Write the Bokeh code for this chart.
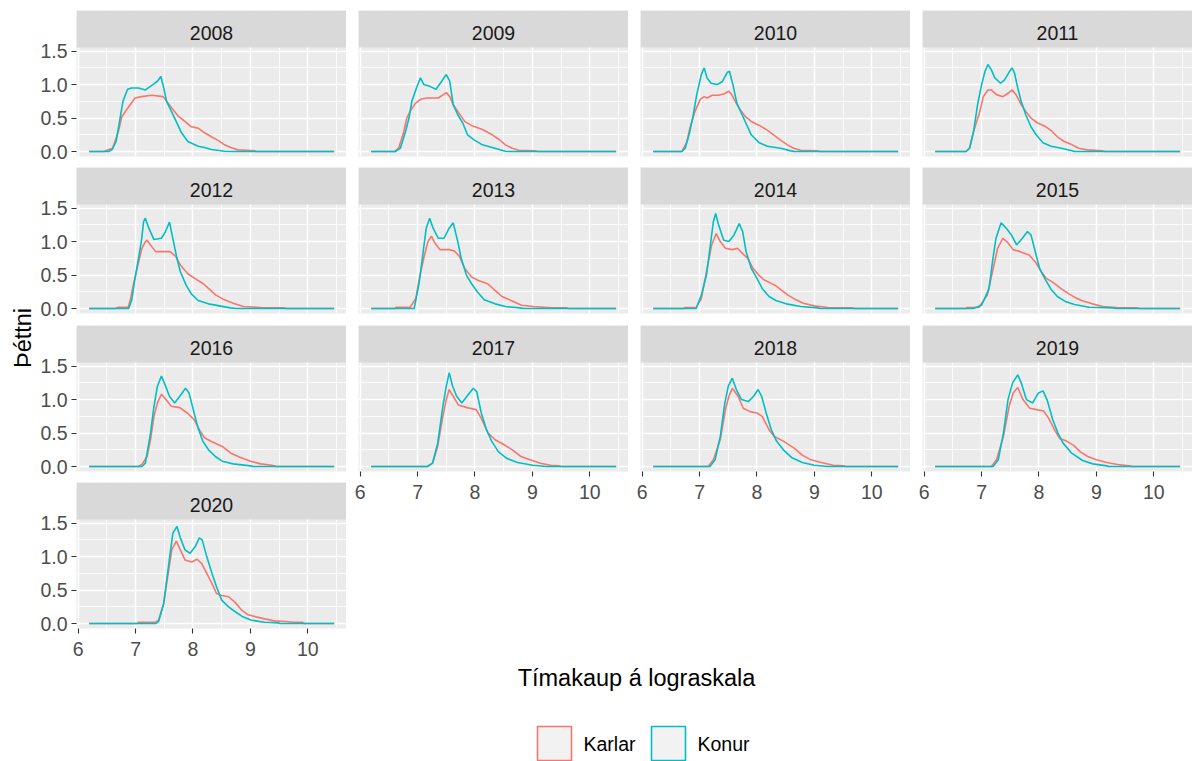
from math import pi

from bokeh.core.properties import value
from bokeh.embed import file_html
from bokeh.layouts import column, row
from bokeh.models import (FixedTicker, Grid, Label, LinearAxis,
                          PrintfTickFormatter, Range1d)
from bokeh.plotting import figure
from bokeh.resources import INLINE

# ---------------------------------------------------------------------------
# Density of log hourly wages, men (Karlar) and women (Konur), 2008-2020
# ---------------------------------------------------------------------------
years = [2008, 2009, 2010, 2011, 2012, 2013, 2014, 2015, 2016, 2017, 2018, 2019, 2020]
series_names = ["Karlar", "Konur"]
x_ticks = [6, 7, 8, 9, 10]
y_ticks = [0.0, 0.5, 1.0, 1.5]

x_karlar_2008 = [6.19, 6.45, 6.5, 6.6, 6.7, 6.76, 6.84, 6.99, 7.1, 7.28, 7.48, 7.54, 7.63, 7.74, 7.86, 7.97, 8.09, 8.2, 8.32, 8.43, 8.55, 8.66, 8.78, 9.0, 9.08, 9.1, 10.46]
y_karlar_2008 = [0, 0, 0.02, 0.05, 0.3, 0.52, 0.62, 0.8, 0.82, 0.84, 0.82, 0.75, 0.65, 0.53, 0.45, 0.37, 0.35, 0.28, 0.22, 0.17, 0.1, 0.06, 0.025, 0.015, 0.01, 0, 0]
x_konur_2008 = [6.19, 6.53, 6.59, 6.66, 6.72, 6.78, 6.86, 6.93, 7.05, 7.17, 7.3, 7.38, 7.44, 7.49, 7.54, 7.68, 7.8, 7.91, 8.09, 8.2, 8.32, 8.55, 8.7, 10.46]
y_konur_2008 = [0, 0, 0.03, 0.15, 0.45, 0.75, 0.93, 0.95, 0.95, 0.92, 1.0, 1.05, 1.12, 0.95, 0.75, 0.5, 0.28, 0.15, 0.08, 0.06, 0.03, 0.005, 0, 0]

x_karlar_2009 = [6.19, 6.6, 6.67, 6.76, 6.81, 6.87, 6.96, 7.05, 7.16, 7.36, 7.45, 7.5, 7.56, 7.62, 7.7, 7.82, 7.96, 8.13, 8.3, 8.42, 8.53, 8.65, 8.76, 9.05, 9.1, 10.46]
y_karlar_2009 = [0, 0, 0.05, 0.3, 0.5, 0.6, 0.72, 0.78, 0.8, 0.8, 0.85, 0.88, 0.82, 0.7, 0.6, 0.45, 0.38, 0.33, 0.25, 0.18, 0.1, 0.05, 0.02, 0.01, 0, 0]
x_konur_2009 = [6.19, 6.61, 6.7, 6.79, 6.85, 6.9, 6.98, 7.05, 7.11, 7.22, 7.32, 7.42, 7.5, 7.56, 7.62, 7.7, 7.79, 7.87, 7.99, 8.13, 8.3, 8.53, 8.6, 10.46]
y_konur_2009 = [0, 0, 0.05, 0.3, 0.5, 0.75, 0.95, 1.1, 1.0, 0.97, 0.93, 1.05, 1.15, 1.05, 0.7, 0.55, 0.42, 0.25, 0.17, 0.1, 0.06, 0.005, 0, 0]

x_karlar_2010 = [6.19, 6.69, 6.78, 6.83, 6.92, 7.01, 7.08, 7.13, 7.22, 7.33, 7.42, 7.51, 7.56, 7.62, 7.71, 7.79, 7.9, 8.04, 8.18, 8.3, 8.41, 8.53, 8.64, 8.76, 9.05, 9.1, 10.46]
y_karlar_2010 = [0, 0, 0.15, 0.35, 0.6, 0.78, 0.82, 0.8, 0.84, 0.84, 0.86, 0.9, 0.85, 0.75, 0.62, 0.53, 0.45, 0.39, 0.32, 0.24, 0.17, 0.1, 0.05, 0.02, 0.01, 0, 0]
x_konur_2010 = [6.19, 6.69, 6.75, 6.83, 6.89, 6.95, 7.03, 7.08, 7.13, 7.2, 7.31, 7.4, 7.48, 7.52, 7.58, 7.65, 7.74, 7.82, 7.9, 8.04, 8.18, 8.41, 8.59, 8.65, 10.46]
y_konur_2010 = [0, 0, 0.05, 0.3, 0.55, 0.85, 1.15, 1.25, 1.1, 1.02, 1.0, 1.05, 1.18, 1.2, 1.0, 0.72, 0.55, 0.4, 0.25, 0.13, 0.08, 0.05, 0.01, 0, 0]

x_karlar_2011 = [6.19, 6.73, 6.79, 6.86, 6.97, 7.03, 7.11, 7.17, 7.26, 7.37, 7.46, 7.53, 7.6, 7.69, 7.77, 7.86, 7.97, 8.12, 8.23, 8.32, 8.44, 8.58, 8.69, 8.84, 9.1, 9.15, 10.46]
y_karlar_2011 = [0, 0, 0.05, 0.3, 0.6, 0.82, 0.92, 0.92, 0.85, 0.82, 0.87, 0.92, 0.85, 0.7, 0.6, 0.5, 0.43, 0.37, 0.3, 0.22, 0.15, 0.1, 0.05, 0.025, 0.01, 0, 0]
x_konur_2011 = [6.19, 6.73, 6.79, 6.86, 6.93, 7.0, 7.06, 7.11, 7.17, 7.23, 7.33, 7.4, 7.49, 7.53, 7.57, 7.63, 7.69, 7.77, 7.86, 7.95, 8.07, 8.21, 8.39, 8.56, 8.62, 10.46]
y_konur_2011 = [0, 0, 0.05, 0.3, 0.7, 1.0, 1.2, 1.3, 1.22, 1.1, 1.02, 1.07, 1.2, 1.25, 1.18, 0.95, 0.75, 0.55, 0.37, 0.25, 0.13, 0.08, 0.05, 0.015, 0, 0]

x_karlar_2012 = [6.19, 6.65, 6.7, 6.87, 6.9, 6.96, 7.04, 7.11, 7.17, 7.2, 7.26, 7.35, 7.48, 7.6, 7.7, 7.78, 7.91, 8.03, 8.18, 8.27, 8.4, 8.55, 8.7, 8.88, 9.18, 9.37, 9.58, 9.62, 10.46]
y_karlar_2012 = [0, 0, 0.02, 0.02, 0.1, 0.35, 0.65, 0.9, 1.0, 1.02, 0.95, 0.85, 0.85, 0.85, 0.78, 0.65, 0.52, 0.45, 0.37, 0.3, 0.2, 0.13, 0.08, 0.03, 0.015, 0.01, 0.01, 0, 0]
x_konur_2012 = [6.19, 6.88, 6.93, 6.98, 7.04, 7.1, 7.14, 7.17, 7.23, 7.32, 7.45, 7.52, 7.59, 7.66, 7.72, 7.78, 7.88, 7.97, 8.09, 8.27, 8.46, 8.65, 8.75, 10.46]
y_konur_2012 = [0, 0, 0.12, 0.4, 0.7, 1.0, 1.3, 1.35, 1.2, 1.03, 1.05, 1.15, 1.29, 1.0, 0.75, 0.55, 0.35, 0.22, 0.12, 0.07, 0.04, 0.01, 0, 0]

x_karlar_2013 = [6.19, 6.6, 6.63, 6.87, 6.97, 7.03, 7.12, 7.18, 7.24, 7.3, 7.39, 7.55, 7.64, 7.73, 7.82, 7.94, 8.06, 8.22, 8.35, 8.47, 8.66, 8.81, 9.02, 9.33, 9.6, 9.63, 10.46]
y_karlar_2013 = [0, 0, 0.02, 0.02, 0.15, 0.45, 0.8, 1.0, 1.08, 0.98, 0.88, 0.88, 0.86, 0.78, 0.6, 0.47, 0.42, 0.37, 0.27, 0.18, 0.11, 0.05, 0.03, 0.01, 0.01, 0, 0]
x_konur_2013 = [6.19, 6.94, 7.03, 7.09, 7.15, 7.21, 7.27, 7.36, 7.46, 7.55, 7.62, 7.7, 7.76, 7.85, 7.94, 8.04, 8.16, 8.35, 8.53, 8.78, 8.85, 10.46]
y_konur_2013 = [0, 0, 0.4, 0.8, 1.2, 1.35, 1.2, 1.05, 1.05, 1.2, 1.28, 1.0, 0.75, 0.5, 0.37, 0.25, 0.13, 0.07, 0.03, 0.01, 0, 0]

x_karlar_2014 = [6.19, 6.72, 6.75, 6.94, 7.03, 7.12, 7.21, 7.29, 7.36, 7.45, 7.57, 7.66, 7.75, 7.84, 7.93, 8.03, 8.12, 8.24, 8.33, 8.42, 8.54, 8.66, 8.81, 9.0, 9.24, 9.55, 9.67, 9.7, 10.46]
y_karlar_2014 = [0, 0, 0.015, 0.015, 0.15, 0.55, 0.95, 1.12, 1.0, 0.9, 0.88, 0.9, 0.82, 0.75, 0.6, 0.5, 0.43, 0.38, 0.34, 0.28, 0.2, 0.14, 0.08, 0.04, 0.015, 0.01, 0.01, 0, 0]
x_konur_2014 = [6.19, 6.94, 7.03, 7.12, 7.18, 7.24, 7.28, 7.33, 7.42, 7.51, 7.6, 7.69, 7.75, 7.81, 7.9, 8.0, 8.09, 8.21, 8.33, 8.51, 8.76, 9.06, 9.1, 10.46]
y_konur_2014 = [0, 0, 0.2, 0.5, 0.9, 1.3, 1.42, 1.25, 1.02, 1.0, 1.1, 1.27, 1.15, 0.85, 0.6, 0.45, 0.3, 0.18, 0.12, 0.07, 0.03, 0.01, 0, 0]

x_karlar_2015 = [6.19, 6.72, 6.75, 6.95, 7.1, 7.19, 7.28, 7.37, 7.46, 7.55, 7.67, 7.83, 7.95, 8.04, 8.13, 8.26, 8.38, 8.5, 8.62, 8.74, 8.93, 9.11, 9.35, 9.72, 9.75, 10.46]
y_karlar_2015 = [0, 0, 0.015, 0.015, 0.2, 0.55, 0.9, 1.05, 0.98, 0.88, 0.85, 0.8, 0.68, 0.55, 0.45, 0.38, 0.3, 0.23, 0.17, 0.12, 0.07, 0.03, 0.015, 0.01, 0, 0]
x_konur_2015 = [6.19, 6.85, 7.0, 7.13, 7.19, 7.25, 7.34, 7.43, 7.52, 7.61, 7.71, 7.8, 7.86, 7.92, 8.01, 8.1, 8.2, 8.32, 8.47, 8.62, 8.87, 9.29, 9.35, 10.46]
y_konur_2015 = [0, 0, 0.05, 0.3, 0.7, 1.05, 1.28, 1.2, 1.1, 0.95, 1.05, 1.15, 1.1, 0.9, 0.6, 0.45, 0.3, 0.18, 0.1, 0.06, 0.02, 0.01, 0, 0]

x_karlar_2016 = [6.19, 7.05, 7.11, 7.2, 7.26, 7.32, 7.38, 7.45, 7.53, 7.62, 7.77, 7.9, 8.02, 8.11, 8.2, 8.33, 8.51, 8.66, 8.82, 9.0, 9.18, 9.4, 9.45, 10.46]
y_karlar_2016 = [0, 0, 0.03, 0.15, 0.4, 0.75, 0.95, 1.08, 1.0, 0.9, 0.88, 0.8, 0.7, 0.55, 0.43, 0.37, 0.3, 0.2, 0.14, 0.08, 0.04, 0.015, 0, 0]
x_konur_2016 = [6.19, 7.11, 7.17, 7.26, 7.32, 7.38, 7.45, 7.5, 7.59, 7.68, 7.77, 7.87, 7.93, 7.99, 8.08, 8.17, 8.27, 8.39, 8.51, 8.7, 9.0, 9.05, 10.46]
y_konur_2016 = [0, 0, 0.05, 0.5, 0.9, 1.2, 1.35, 1.25, 1.05, 0.95, 1.05, 1.17, 1.1, 0.9, 0.6, 0.38, 0.25, 0.15, 0.08, 0.04, 0.01, 0, 0]

x_karlar_2017 = [6.19, 7.17, 7.26, 7.35, 7.44, 7.5, 7.55, 7.62, 7.71, 7.86, 8.02, 8.11, 8.23, 8.35, 8.5, 8.65, 8.8, 8.96, 9.14, 9.32, 9.47, 9.5, 10.46]
y_karlar_2017 = [0, 0, 0.05, 0.3, 0.75, 1.0, 1.15, 1.05, 0.92, 0.88, 0.85, 0.72, 0.5, 0.4, 0.33, 0.25, 0.15, 0.1, 0.05, 0.02, 0.01, 0, 0]
x_konur_2017 = [6.19, 7.17, 7.26, 7.35, 7.44, 7.5, 7.55, 7.61, 7.68, 7.77, 7.86, 7.97, 8.03, 8.11, 8.2, 8.29, 8.41, 8.56, 8.74, 9.01, 9.2, 9.25, 10.46]
y_konur_2017 = [0, 0, 0.05, 0.35, 0.9, 1.2, 1.4, 1.2, 1.05, 0.95, 1.05, 1.17, 1.12, 0.8, 0.55, 0.38, 0.22, 0.12, 0.06, 0.02, 0.005, 0, 0]

x_karlar_2018 = [6.19, 7.15, 7.24, 7.36, 7.45, 7.51, 7.57, 7.67, 7.76, 7.88, 8.0, 8.09, 8.21, 8.3, 8.46, 8.64, 8.79, 8.94, 9.12, 9.33, 9.52, 9.55, 10.46]
y_karlar_2018 = [0, 0, 0.1, 0.4, 0.85, 1.05, 1.17, 1.05, 0.87, 0.82, 0.8, 0.75, 0.55, 0.45, 0.38, 0.28, 0.17, 0.1, 0.06, 0.02, 0.01, 0, 0]
x_konur_2018 = [6.19, 7.18, 7.27, 7.36, 7.44, 7.5, 7.57, 7.64, 7.73, 7.85, 7.94, 8.02, 8.08, 8.16, 8.25, 8.34, 8.46, 8.61, 8.79, 9.0, 9.18, 9.22, 10.46]
y_konur_2018 = [0, 0, 0.1, 0.45, 0.95, 1.2, 1.32, 1.15, 1.0, 0.97, 1.05, 1.15, 1.05, 0.8, 0.55, 0.38, 0.25, 0.13, 0.06, 0.02, 0.005, 0, 0]

x_karlar_2019 = [6.19, 7.17, 7.26, 7.38, 7.48, 7.55, 7.63, 7.72, 7.84, 7.96, 8.08, 8.17, 8.27, 8.36, 8.48, 8.6, 8.72, 8.85, 9.0, 9.18, 9.37, 9.58, 9.62, 10.46]
y_karlar_2019 = [0, 0, 0.1, 0.45, 0.9, 1.1, 1.18, 1.0, 0.87, 0.85, 0.83, 0.72, 0.55, 0.42, 0.38, 0.32, 0.22, 0.15, 0.1, 0.06, 0.03, 0.01, 0, 0]
x_konur_2019 = [6.19, 7.2, 7.29, 7.38, 7.46, 7.54, 7.63, 7.69, 7.78, 7.89, 7.99, 8.07, 8.14, 8.24, 8.33, 8.42, 8.57, 8.76, 8.94, 9.18, 9.22, 10.46]
y_konur_2019 = [0, 0, 0.1, 0.5, 1.0, 1.25, 1.37, 1.25, 1.0, 0.95, 1.1, 1.13, 1.0, 0.7, 0.5, 0.35, 0.2, 0.09, 0.04, 0.01, 0, 0]

x_karlar_2020 = [6.19, 7.03, 7.05, 7.35, 7.4, 7.49, 7.55, 7.63, 7.71, 7.78, 7.86, 7.98, 8.07, 8.15, 8.24, 8.33, 8.41, 8.5, 8.62, 8.73, 8.85, 8.96, 9.1, 9.25, 9.42, 9.6, 9.77, 9.91, 9.93, 10.46]
y_karlar_2020 = [0, 0, 0.02, 0.02, 0.05, 0.3, 0.65, 1.1, 1.23, 1.1, 0.95, 0.92, 0.96, 0.9, 0.75, 0.6, 0.45, 0.42, 0.4, 0.32, 0.2, 0.13, 0.1, 0.07, 0.04, 0.03, 0.02, 0.02, 0, 0]
x_konur_2020 = [6.19, 7.35, 7.4, 7.49, 7.55, 7.61, 7.65, 7.72, 7.78, 7.86, 7.95, 8.04, 8.11, 8.16, 8.24, 8.33, 8.41, 8.5, 8.62, 8.73, 8.87, 9.02, 9.25, 9.48, 9.52, 10.46]
y_konur_2020 = [0, 0, 0.03, 0.3, 0.7, 1.1, 1.35, 1.45, 1.28, 1.1, 1.05, 1.15, 1.28, 1.25, 1.0, 0.75, 0.55, 0.35, 0.25, 0.18, 0.1, 0.05, 0.02, 0.01, 0, 0]

curves = {
    2008: ((x_karlar_2008, y_karlar_2008), (x_konur_2008, y_konur_2008)),
    2009: ((x_karlar_2009, y_karlar_2009), (x_konur_2009, y_konur_2009)),
    2010: ((x_karlar_2010, y_karlar_2010), (x_konur_2010, y_konur_2010)),
    2011: ((x_karlar_2011, y_karlar_2011), (x_konur_2011, y_konur_2011)),
    2012: ((x_karlar_2012, y_karlar_2012), (x_konur_2012, y_konur_2012)),
    2013: ((x_karlar_2013, y_karlar_2013), (x_konur_2013, y_konur_2013)),
    2014: ((x_karlar_2014, y_karlar_2014), (x_konur_2014, y_konur_2014)),
    2015: ((x_karlar_2015, y_karlar_2015), (x_konur_2015, y_konur_2015)),
    2016: ((x_karlar_2016, y_karlar_2016), (x_konur_2016, y_konur_2016)),
    2017: ((x_karlar_2017, y_karlar_2017), (x_konur_2017, y_konur_2017)),
    2018: ((x_karlar_2018, y_karlar_2018), (x_konur_2018, y_konur_2018)),
    2019: ((x_karlar_2019, y_karlar_2019), (x_konur_2019, y_konur_2019)),
    2020: ((x_karlar_2020, y_karlar_2020), (x_konur_2020, y_konur_2020)),
}

# ---------------------------------------------------------------------------
# Styling and layout
# ---------------------------------------------------------------------------
FONT = "Liberation Sans"
COLORS = {"Karlar": "#F8766D", "Konur": "#00BFC4"}
PANEL_BG = "#EBEBEB"
STRIP_BG = "#D9D9D9"
KEY_BG = "#F2F2F2"
TICK_SIZE = "19.5px"
TITLE_SIZE = "23.5px"
LINE_W = 1.6

X_START, X_END = 5.97, 10.675
Y_START, Y_TOP = -0.074, 1.554
FRAME_W, FRAME_H, STRIP_H = 270, 146, 37
PX_PER_Y = (FRAME_H - STRIP_H) / (Y_TOP - Y_START)
Y_END = Y_TOP + STRIP_H / PX_PER_Y

AXIS_B = 38          # room for the bottom tick labels
# (top border, bottom border) of each panel row
ROW_BORDERS = [(10, 8), (3, 8), (4, 8), (3, AXIS_B)]


def style_axis(axis, standoff):
    axis.axis_line_color = None
    axis.major_tick_line_color = "#333333"
    axis.major_tick_line_width = 1.1
    axis.major_tick_in = 0
    axis.major_tick_out = 5
    axis.minor_tick_line_color = None
    axis.major_label_standoff = standoff
    axis.major_label_text_font = FONT
    axis.major_label_text_font_size = TICK_SIZE
    axis.major_label_text_color = "#4D4D4D"


def blank_figure(w, h, x_end, y_end):
    f = figure(width=w, height=h, x_range=Range1d(0, x_end), y_range=Range1d(0, y_end),
               x_axis_location=None, y_axis_location=None, toolbar_location=None,
               output_backend="svg", title=None, min_border=0,
               outline_line_color=None, border_fill_color="white",
               background_fill_color="white")
    f.center = [c for c in f.center if not isinstance(c, Grid)]
    return f


def panel(year, left_axis, bottom_axis, top_gap, bottom_gap):
    p = figure(
        frame_width=FRAME_W, frame_height=FRAME_H,
        x_range=Range1d(X_START, X_END), y_range=Range1d(Y_START, Y_END),
        x_axis_location=None, y_axis_location=None,
        toolbar_location=None, output_backend="svg", title=None,
        min_border_left=40 if left_axis else 12, min_border_right=0,
        min_border_top=top_gap, min_border_bottom=AXIS_B if bottom_axis else bottom_gap,
        background_fill_color=PANEL_BG, border_fill_color="white",
        outline_line_color=None,
    )
    p.center = [c for c in p.center if not isinstance(c, Grid)]

    xt = FixedTicker(ticks=x_ticks, minor_ticks=[6.5, 7.5, 8.5, 9.5, 10.5])
    yt = FixedTicker(ticks=y_ticks, minor_ticks=[0.25, 0.75, 1.25])
    for dim, tk in ((0, xt), (1, yt)):
        p.add_layout(Grid(dimension=dim, ticker=tk,
                          grid_line_color="white", grid_line_width=1.5,
                          minor_grid_line_color="white", minor_grid_line_width=0.8))

    if left_axis:
        ax = LinearAxis(ticker=FixedTicker(ticks=y_ticks),
                        formatter=PrintfTickFormatter(format="%.1f"))
        style_axis(ax, 4)
        p.add_layout(ax, "left")
    if bottom_axis:
        ax = LinearAxis(ticker=FixedTicker(ticks=x_ticks))
        style_axis(ax, 8)
        p.add_layout(ax, "below")

    for name, (xs, ys) in zip(series_names, curves[year]):
        p.line(xs, ys, line_color=COLORS[name], line_width=LINE_W)

    # facet strip above the panel
    p.quad(left=[X_START], right=[X_END], bottom=[Y_TOP], top=[Y_END],
           fill_color=STRIP_BG, line_color=None)
    p.text(x=[(X_START + X_END) / 2], y=[Y_TOP + 15 / PX_PER_Y], text=[str(year)],
           text_align="center", text_baseline="middle",
           text_font=value(FONT), text_font_size=TICK_SIZE, text_color="#1A1A1A")
    return p


figs = {}
for i, yr in enumerate(years):
    top_gap, bottom_gap = ROW_BORDERS[i // 4]
    figs[yr] = panel(yr, left_axis=(i % 4 == 0),
                     bottom_axis=yr in (2017, 2018, 2019, 2020),
                     top_gap=top_gap, bottom_gap=bottom_gap)

grid_block = column(
    row(figs[2008], figs[2009], figs[2010], figs[2011]),
    row(figs[2012], figs[2013], figs[2014], figs[2015]),
    row(column(figs[2016], figs[2020]), figs[2017], figs[2018], figs[2019]),
)
TOP_H = sum(t + FRAME_H + b for t, b in ROW_BORDERS)

# shared y-axis title
ylab = blank_figure(36, TOP_H, 36, TOP_H)
ylab.add_layout(Label(x=22.5, y=TOP_H - 337.5, text="Þéttni", angle=pi / 2,
                      text_align="center", text_baseline="middle",
                      text_font=FONT, text_font_size=TITLE_SIZE, text_color="black"))

# shared x-axis title and legend
BOTTOM_H = 761 - TOP_H
bottom = blank_figure(1192, BOTTOM_H, 1192, BOTTOM_H)
bottom.add_layout(Label(x=636, y=BOTTOM_H - (677.5 - TOP_H), text="Tímakaup á lograskala",
                        text_align="center", text_baseline="middle",
                        text_font=FONT, text_font_size=TITLE_SIZE, text_color="black"))

KEY = 34
key_left = [537, 651]
key_bottom = 1
bottom.quad(left=key_left, right=[k + KEY for k in key_left],
            bottom=[key_bottom] * 2, top=[key_bottom + KEY] * 2,
            fill_color=KEY_BG, line_color=[COLORS[n] for n in series_names],
            line_width=LINE_W)
bottom.text(x=[k + KEY + 12 for k in key_left], y=[key_bottom + KEY / 2] * 2,
            text=series_names, text_align="left", text_baseline="middle",
            text_font=value(FONT), text_font_size=TICK_SIZE, text_color="black")

layout = column(row(ylab, grid_block), bottom)

open("out.html", "w").write(file_html(layout, INLINE))
